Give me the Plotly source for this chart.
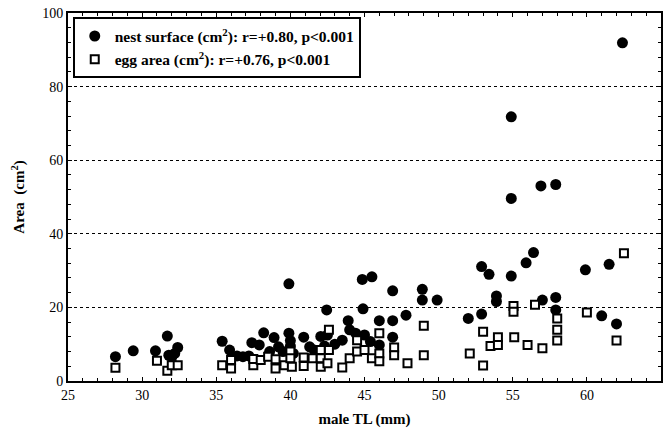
import plotly.graph_objects as go

nest_x = [28.2, 29.4, 30.9, 31.7, 31.8, 32.0, 32.2, 32.4, 35.4, 35.9, 36.4, 36.8, 37.2, 37.4, 37.9,
          38.2, 38.6, 38.9, 39.2, 39.5, 39.9, 39.9, 40.0, 40.0, 40.2, 40.9, 41.3, 41.6, 42.05, 42.5,
          42.45, 42.3, 43.0, 43.5, 44.0, 43.9, 44.4, 44.9, 44.85, 45.0, 45.4, 45.5, 46.0, 46.0, 46.9,
          46.9, 46.9, 47.8, 48.9, 48.9, 49.9, 52.0, 52.9, 52.9, 53.4, 53.9, 53.9, 54.9, 54.9, 54.9,
          55.9, 56.4, 56.9, 57.0, 57.9, 57.9, 57.9, 59.9, 61.0, 61.5, 62.0, 62.4]
nest_y = [6.6, 8.2, 8.2, 12.2, 7.0, 6.5, 7.5, 9.1, 10.8, 8.4, 6.8, 6.6, 6.8, 10.4, 9.8,
          13.1, 8.0, 11.8, 9.3, 8.0, 13.0, 26.4, 11.0, 9.5, 7.5, 11.9, 9.3, 8.4, 12.1, 12.5,
          19.3, 9.5, 10.0, 11.1, 13.9, 16.4, 13.0, 19.6, 27.6, 12.5, 10.7, 28.3, 16.4, 9.8, 24.5,
          16.4, 11.9, 17.9, 24.9, 22.0, 22.0, 17.0, 18.2, 31.1, 29.0, 23.1, 21.6, 28.5, 49.6, 71.8,
          32.1, 34.9, 53.0, 22.0, 53.4, 22.7, 19.3, 30.2, 17.7, 31.7, 15.5, 91.9]

egg_x = [28.2, 31.0, 31.7, 32.0, 32.4, 35.4, 36.0, 36.0, 37.5, 37.5, 38.0, 38.5, 39.0, 39.0, 39.6,
         40.0, 40.0, 40.1, 40.9, 40.9, 41.5, 42.05, 42.05, 42.05, 42.5, 42.6, 42.6, 43.5, 44.0, 44.5,
         44.5, 45.0, 45.5, 46.0, 46.0, 46.0, 47.0, 47.0, 47.9, 49.0, 49.0, 52.1, 53.0, 53.0, 53.5,
         54.0, 54.0, 55.05, 55.05, 55.1, 56.0, 56.5, 57.0, 58.0, 58.0, 58.0, 60.0, 62.0, 62.5]
egg_y = [3.6, 5.5, 2.8, 4.3, 4.3, 4.3, 3.4, 5.7, 4.3, 6.0, 5.7, 6.6, 5.9, 3.4, 4.3,
         8.0, 6.2, 3.9, 6.4, 4.1, 6.2, 8.4, 6.2, 3.9, 4.8, 8.4, 13.9, 3.7, 6.2, 8.0,
         11.1, 8.4, 6.2, 7.5, 5.4, 13.0, 9.1, 7.0, 4.8, 15.0, 7.0, 7.5, 13.4, 4.2, 9.5,
         11.9, 9.8, 20.4, 18.8, 11.9, 9.8, 20.7, 8.9, 17.0, 13.9, 11.0, 18.6, 11.0, 34.7]

nest_label = "nest surface (cm<sup>2</sup>): r=+0.80, p&lt;0.001"
egg_label = "egg area (cm<sup>2</sup>): r=+0.76, p&lt;0.001"

FONT = "Liberation Serif"

fig = go.Figure()
fig.add_trace(go.Scatter(x=nest_x, y=nest_y, mode="markers", name=nest_label,
                         marker=dict(symbol="circle", size=11, color="black",
                                     line=dict(width=0))))
fig.add_trace(go.Scatter(x=egg_x, y=egg_y, mode="markers", name=egg_label,
                         marker=dict(symbol="square", size=8, color="white",
                                     line=dict(width=2, color="black"))))

axis_common = dict(showline=True, linecolor="black", linewidth=2, mirror="allticks",
                   ticks="inside", ticklen=4, tickcolor="black", zeroline=False,
                   tickfont=dict(family=FONT, size=14, color="black"))

fig.update_layout(
    width=667, height=437,
    margin=dict(l=68, r=4, t=13, b=56),
    paper_bgcolor="white", plot_bgcolor="white",
    font=dict(family=FONT, color="black"),
    showlegend=True,
    legend=dict(x=0.008, y=0.988, xanchor="left", yanchor="top",
                bgcolor="white", bordercolor="black", borderwidth=2,
                font=dict(family=FONT, size=15.5, color="black", weight="bold"),
                itemwidth=30, tracegroupgap=0),
    xaxis=dict(range=[25, 65], dtick=5, showgrid=False,
               title=dict(text="<b>male TL (mm)</b>", font=dict(family=FONT, size=15), standoff=12),
               minor=dict(dtick=1, ticks="inside", ticklen=3, tickcolor="black", showgrid=False),
               **axis_common),
    yaxis=dict(range=[0, 100], dtick=20, showgrid=True, gridcolor="black", griddash="dot",
               gridwidth=1,
               title=dict(text="<b>Area  (cm<sup>2</sup>)</b>", font=dict(family=FONT, size=15), standoff=14),
               minor=dict(dtick=4, ticks="inside", ticklen=3, tickcolor="black", showgrid=False),
               **axis_common),
)

fig.write_html("out.html")
